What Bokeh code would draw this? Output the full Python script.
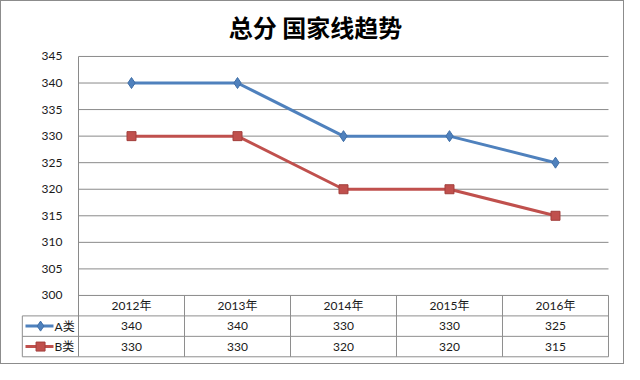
from bokeh.plotting import figure
from bokeh.layouts import column
from bokeh.models import Range1d, FixedTicker
from bokeh.embed import file_html
from bokeh.resources import INLINE
from bokeh.core.properties import value

# ---- data ----
years = ["2012年", "2013年", "2014年", "2015年", "2016年"]
series_a = [340, 340, 330, 330, 325]
series_b = [330, 330, 320, 320, 315]
name_a = "A类"
name_b = "B类"
y_ticks = [300, 305, 310, 315, 320, 325, 330, 335, 340, 345]
title_text = "总分 国家线趋势"

# ---- style / layout constants ----
BLUE = "#4F81BD"
BLUE_EDGE = "#3F6FA8"
RED = "#C0504D"
RED_EDGE = "#A33F3C"
GRID = "#8A8A8A"
TABLE = "#8E8E8E"
FONT = "Lato, 'Noto Sans CJK SC'"
TXT = "#1a1a1a"
FS = "12px"
Y_MIN, Y_MAX = 300, 345
Y_TOP = 346.5         # small headroom so the top gridline/label are not clipped
ROW = 3.85            # height of one data-table row, in y units
LEG = -0.53           # left edge of the legend column of the table
n = len(years)
xc = [i + 0.5 for i in range(n)]          # category centres
table_bottom = Y_MIN - 3 * ROW
r1 = Y_MIN - ROW          # bottom of header row
r2 = Y_MIN - 2 * ROW      # bottom of A row

p = figure(width=622, height=362,
           x_range=Range1d(-0.5472, 5.0189),
           y_range=Range1d(287.94, Y_TOP),
           x_axis_location=None,
           output_backend="svg", toolbar_location=None,
           min_border_left=19, min_border_right=13,
           min_border_bottom=4, min_border_top=47,
           title=title_text)
p.title.align = "center"
p.title.text_font = "Noto Sans CJK SC"
p.title.text_font_size = "24px"
p.title.text_font_style = "bold"
p.title.text_color = "#000000"
p.title.offset = -5
p.title.standoff = 10

ax = p.yaxis[0]
ax.fixed_location = 0
ax.bounds = (table_bottom, Y_MAX)
ax.ticker = FixedTicker(ticks=y_ticks)
ax.major_tick_line_color = None
ax.minor_tick_line_color = None
ax.axis_line_color = GRID
ax.major_label_text_font = FONT
ax.major_label_text_font_size = FS
ax.major_label_text_color = TXT
ax.major_label_standoff = 10
p.grid.visible = False
p.outline_line_color = None

# horizontal gridlines across the plot area
p.segment(x0=[0] * len(y_ticks), y0=y_ticks, x1=[n] * len(y_ticks), y1=y_ticks,
          line_color=GRID, line_width=1)

# series
p.line(xc, series_a, line_width=3, color=BLUE)
p.scatter(xc, series_a, marker="diamond", size=11,
          fill_color=BLUE, line_color=BLUE_EDGE)
p.line(xc, series_b, line_width=3, color=RED)
p.scatter(xc, series_b, marker="square", size=9,
          fill_color=RED, line_color=RED_EDGE)

# ---- data table ----
p.segment(x0=[LEG] * 3, y0=[r1, r2, table_bottom], x1=[n] * 3, y1=[r1, r2, table_bottom],
          line_color=TABLE, line_width=1)
vx = list(range(1, n + 1))
p.segment(x0=vx, y0=[table_bottom] * n, x1=vx, y1=[Y_MIN] * n,
          line_color=TABLE, line_width=1)
p.segment(x0=[LEG], y0=[table_bottom], x1=[LEG], y1=[r1],
          line_color=TABLE, line_width=1)

common = dict(text_font=value(FONT), text_font_size=FS,
              text_color=TXT, text_align="center", text_baseline="middle")
p.text(x=xc, y=[Y_MIN - ROW / 2] * n, text=years, **common)
p.text(x=xc, y=[r1 - ROW / 2] * n, text=[str(v) for v in series_a], **common)
p.text(x=xc, y=[r2 - ROW / 2] * n, text=[str(v) for v in series_b], **common)

# legend keys
ya, yb = r1 - ROW / 2, r2 - ROW / 2
p.segment(x0=[-0.5, -0.5], y0=[ya, yb], x1=[-0.236, -0.236], y1=[ya, yb],
          line_color=[BLUE, RED], line_width=3)
p.scatter(x=[-0.358], y=[ya], marker="diamond", size=10,
          fill_color=BLUE, line_color=BLUE_EDGE)
p.scatter(x=[-0.358], y=[yb], marker="square", size=9,
          fill_color=RED, line_color=RED_EDGE)
p.text(x=[-0.226, -0.226], y=[ya, yb], text=[name_a, name_b],
       text_font=value(FONT), text_font_size=FS, text_color=TXT,
       text_align="left", text_baseline="middle")

layout = column(p, spacing=0, styles={"border": "1px solid #8C8C8C"})

open("out.html", "w").write(file_html(layout, INLINE))
